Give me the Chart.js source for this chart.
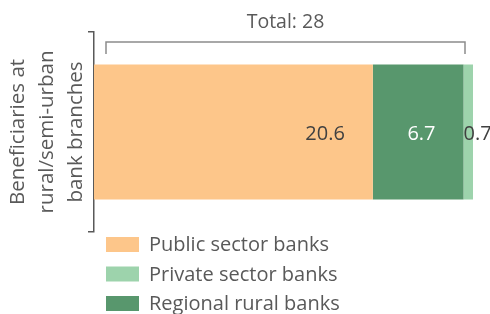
<!DOCTYPE html>
<html>
<head>
<meta charset="utf-8">
<script src="https://cdn.jsdelivr.net/npm/chart.js"></script>
<style>
  html, body { margin: 0; padding: 0; background: #fff; }
  #wrap { width: 490px; height: 314px; }
</style>
</head>
<body>
<div id="wrap"><canvas id="chart"></canvas></div>
<script>
// datos del gráfico (orden de apilado)
const categories = [''];
const seriesNames = ['Public sector banks', 'Regional rural banks', 'Private sector banks'];
const seriesValues = [[20.6], [6.7], [0.7]];
const seriesColors = ['#FDC68A', '#58976D', '#9DD3AC'];
const labelColors = ['#404040', '#ffffff', '#404040'];
const legendOrder = [0, 2, 1];
const total = 28;
const axisTitle = ['Beneficiaries at', 'rural/semi-urban', 'bank branches'];

const FONT = "'Open Sans', 'DejaVu Sans', sans-serif";
const GRAY = '#595959';

// etiquetas de valores y el corchete del total
const extras = {
  id: 'extras',
  afterDatasetsDraw(chart) {
    const ctx = chart.ctx;
    const x = chart.scales.x;
    ctx.save();
    ctx.font = '20px ' + FONT;
    ctx.textBaseline = 'middle';
    chart.data.datasets.forEach((ds, i) => {
      const el = chart.getDatasetMeta(i).data[0];
      const w = el.x - el.base;
      ctx.fillStyle = labelColors[i];
      if (w > 40) {
        ctx.textAlign = 'right';
        ctx.fillText(ds.data[0], el.x - 28, el.y + 2);
      } else {
        ctx.textAlign = 'left';
        ctx.fillText(ds.data[0], el.base, el.y + 2);
      }
    });

    // corchete del total
    const x0 = x.getPixelForValue(0) + 12;
    const x1 = x.getPixelForValue(total) - 8;
    ctx.strokeStyle = '#8c8c8c';
    ctx.lineWidth = 1.5;
    ctx.beginPath();
    ctx.moveTo(x0, 54);
    ctx.lineTo(x0, 42);
    ctx.lineTo(x1, 42);
    ctx.lineTo(x1, 54);
    ctx.stroke();
    ctx.fillStyle = GRAY;
    ctx.textAlign = 'center';
    ctx.font = '19.5px ' + FONT;
    ctx.fillText('Total: ' + total, (x0 + x1) / 2, 22);

    // leyenda vertical
    ctx.font = '20px ' + FONT;
    ctx.textAlign = 'left';
    legendOrder.forEach((idx, row) => {
      const top = 237 + row * 29.5;
      ctx.fillStyle = seriesColors[idx];
      ctx.fillRect(106, top, 33, 15);
      ctx.fillStyle = GRAY;
      ctx.fillText(seriesNames[idx], 149, top + 8.5);
    });
    ctx.restore();
  }
};

new Chart(document.getElementById('chart'), {
  type: 'bar',
  data: {
    labels: categories,
    datasets: seriesNames.map((name, i) => ({
      label: name,
      data: seriesValues[i],
      backgroundColor: seriesColors[i],
      borderWidth: 0,
      categoryPercentage: 1,
      barPercentage: 0.675
    }))
  },
  options: {
    indexAxis: 'y',
    responsive: true,
    maintainAspectRatio: false,
    animation: false,
    layout: { padding: { top: 32, right: 17, bottom: 82, left: 4 } },
    plugins: {
      legend: { display: false },
      tooltip: { enabled: false }
    },
    scales: {
      x: {
        stacked: true,
        display: false,
        min: 0,
        max: total
      },
      y: {
        stacked: true,
        grid: {
          display: true,
          drawOnChartArea: false,
          offset: true,
          tickLength: 6,
          color: GRAY,
          lineWidth: 1.5
        },
        border: { display: true, color: GRAY, width: 1.5 },
        ticks: { display: false },
        title: {
          display: true,
          text: axisTitle,
          color: GRAY,
          font: { family: FONT, size: 20.5, lineHeight: 1.4 },
          padding: { top: 0, bottom: 0 }
        },
        afterFit(scale) { scale.width = 90; }
      }
    }
  },
  plugins: [extras]
});
</script>
</body>
</html>
